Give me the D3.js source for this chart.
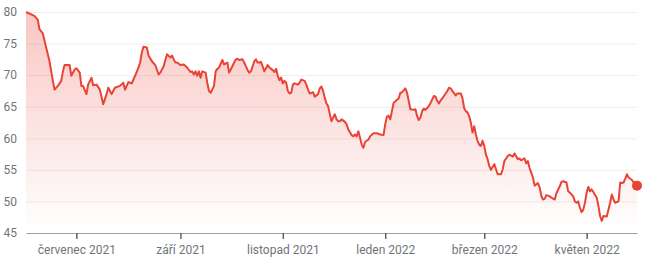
<!DOCTYPE html>
<html>
<head>
<meta charset="utf-8">
<script src="https://cdn.jsdelivr.net/npm/d3@7"></script>
<style>
  body { margin: 0; background: #fff; }
  svg { display: block; }
</style>
</head>
<body>
<svg width="650" height="262"></svg>
<script>
// daily closes (one row per month)
const dates = [
  "2021-06-01","2021-06-06","2021-06-08","2021-06-09","2021-06-11","2021-06-13","2021-06-15","2021-06-17","2021-06-18","2021-06-20","2021-06-22","2021-06-23","2021-06-24","2021-06-27","2021-06-28","2021-06-30",
  "2021-07-01","2021-07-03","2021-07-04","2021-07-05","2021-07-07","2021-07-08","2021-07-10","2021-07-11","2021-07-13","2021-07-15","2021-07-17","2021-07-19","2021-07-20","2021-07-22","2021-07-24","2021-07-27","2021-07-29","2021-07-30",
  "2021-08-01","2021-08-03","2021-08-05","2021-08-07","2021-08-08","2021-08-09","2021-08-10","2021-08-12","2021-08-13","2021-08-15","2021-08-17","2021-08-19","2021-08-20","2021-08-22","2021-08-24","2021-08-26","2021-08-27","2021-08-28","2021-08-29","2021-08-30",
  "2021-09-01","2021-09-03","2021-09-05","2021-09-07","2021-09-08","2021-09-09","2021-09-10","2021-09-11","2021-09-12","2021-09-13","2021-09-14","2021-09-16","2021-09-17","2021-09-18","2021-09-19","2021-09-21","2021-09-22","2021-09-23","2021-09-24","2021-09-26","2021-09-27","2021-09-29","2021-09-30",
  "2021-10-01","2021-10-03","2021-10-04","2021-10-05","2021-10-06","2021-10-08","2021-10-09","2021-10-11","2021-10-12","2021-10-13","2021-10-15","2021-10-16","2021-10-17","2021-10-18","2021-10-19","2021-10-20","2021-10-21","2021-10-23","2021-10-24","2021-10-26","2021-10-27","2021-10-28","2021-10-29","2021-10-30","2021-10-31",
  "2021-11-01","2021-11-02","2021-11-03","2021-11-04","2021-11-05","2021-11-06","2021-11-07","2021-11-08","2021-11-10","2021-11-11","2021-11-12","2021-11-14","2021-11-15","2021-11-16","2021-11-17","2021-11-18","2021-11-19","2021-11-20","2021-11-22","2021-11-23","2021-11-24","2021-11-25","2021-11-26","2021-11-27","2021-11-28","2021-11-29","2021-11-30",
  "2021-12-01","2021-12-02","2021-12-03","2021-12-04","2021-12-05","2021-12-06","2021-12-08","2021-12-09","2021-12-10","2021-12-12","2021-12-13","2021-12-14","2021-12-15","2021-12-16","2021-12-17","2021-12-18","2021-12-19","2021-12-20","2021-12-22","2021-12-23","2021-12-25","2021-12-27","2021-12-29","2021-12-31",
  "2022-01-01","2022-01-02","2022-01-03","2022-01-04","2022-01-05","2022-01-06","2022-01-08","2022-01-09","2022-01-10","2022-01-11","2022-01-12","2022-01-13","2022-01-14","2022-01-15","2022-01-16","2022-01-18","2022-01-19","2022-01-20","2022-01-21","2022-01-22","2022-01-23","2022-01-24","2022-01-25","2022-01-26","2022-01-27","2022-01-28","2022-01-30","2022-01-31",
  "2022-02-01","2022-02-02","2022-02-03","2022-02-04","2022-02-05","2022-02-06","2022-02-07","2022-02-08","2022-02-09","2022-02-10","2022-02-12","2022-02-13","2022-02-15","2022-02-16","2022-02-17","2022-02-18","2022-02-19","2022-02-20","2022-02-21","2022-02-22","2022-02-23","2022-02-24","2022-02-25","2022-02-26","2022-02-27","2022-02-28",
  "2022-03-01","2022-03-02","2022-03-03","2022-03-04","2022-03-05","2022-03-07","2022-03-08","2022-03-09","2022-03-11","2022-03-12","2022-03-13","2022-03-15","2022-03-16","2022-03-18","2022-03-19","2022-03-21","2022-03-22","2022-03-23","2022-03-25","2022-03-26","2022-03-27","2022-03-28","2022-03-30","2022-03-31",
  "2022-04-02","2022-04-03","2022-04-04","2022-04-05","2022-04-06","2022-04-07","2022-04-09","2022-04-10","2022-04-12","2022-04-13","2022-04-15","2022-04-16","2022-04-17","2022-04-19","2022-04-20","2022-04-21","2022-04-23","2022-04-24","2022-04-25","2022-04-26","2022-04-27","2022-04-28","2022-04-29","2022-04-30",
  "2022-05-01","2022-05-02","2022-05-03","2022-05-04","2022-05-05","2022-05-07","2022-05-08","2022-05-09","2022-05-10","2022-05-11","2022-05-13","2022-05-15","2022-05-16","2022-05-17","2022-05-18","2022-05-19","2022-05-20","2022-05-21","2022-05-22","2022-05-23","2022-05-24","2022-05-25","2022-05-26","2022-05-27","2022-05-28","2022-05-29","2022-05-31"
];
const prices = [
  80.0,79.4,78.8,77.3,76.6,74.4,72.2,69.1,67.7,68.3,69.1,70.6,71.6,71.6,69.9,70.9,
  71.1,70.4,68.3,68.3,67.0,68.5,69.6,68.4,68.5,67.7,65.4,67.0,68.0,67.0,68.0,68.3,68.8,67.7,
  68.9,68.7,69.9,71.2,72.0,73.6,74.5,74.4,73.1,72.2,71.6,70.1,70.4,71.4,73.3,72.8,73.1,72.5,72.0,72.0,
  71.6,71.7,71.2,70.5,70.6,70.1,70.6,69.9,70.6,69.6,70.6,70.4,68.8,67.5,67.2,68.3,70.6,71.0,71.2,72.4,71.7,72.0,70.4,
  70.9,72.0,72.5,72.6,72.4,72.5,72.0,70.8,70.4,70.6,72.2,72.5,72.0,72.0,72.1,71.4,70.6,71.6,71.2,70.8,70.5,71.0,69.9,69.2,69.6,
  68.7,69.1,68.8,67.5,67.1,67.2,68.5,68.7,68.5,68.8,69.3,69.1,68.5,67.7,67.1,67.2,67.3,66.6,67.0,67.9,68.2,67.5,66.4,65.5,65.1,63.8,62.7,
  63.3,63.8,63.0,62.7,62.7,63.0,62.6,62.2,61.4,60.5,60.3,60.6,60.3,61.1,60.1,59.0,58.5,59.4,59.8,60.3,60.8,60.8,60.6,60.5,
  62.2,63.4,63.6,63.0,64.3,65.6,66.1,66.3,67.2,67.3,67.6,67.9,67.2,65.9,64.6,64.5,64.6,63.5,62.9,63.3,64.3,64.7,64.5,64.8,65.1,65.6,66.7,66.6,
  65.9,65.5,66.0,66.3,66.7,67.1,67.5,68.0,67.9,67.5,66.8,67.1,67.1,66.4,64.8,64.3,64.1,63.5,62.5,60.9,61.9,60.6,59.6,59.0,58.8,59.6,
  58.8,57.4,56.7,55.6,55.0,55.9,55.1,54.3,54.3,55.1,56.4,57.2,57.4,57.1,57.6,56.7,56.8,56.5,56.8,56.0,56.4,55.3,53.8,52.5,
  52.9,52.2,50.9,50.3,50.4,51.0,50.8,50.6,50.3,51.3,52.4,53.1,53.2,53.0,51.6,51.4,50.8,50.0,49.8,50.0,49.0,48.3,48.7,49.8,
  51.4,52.3,51.6,51.9,51.5,50.6,49.3,47.7,46.9,47.7,47.6,49.8,51.1,50.3,49.8,49.9,50.0,53.0,52.9,53.0,53.6,54.3,53.8,53.6,53.4,53.0,52.5
];
const yTicks = [45, 50, 55, 60, 65, 70, 75, 80];
const xTickDates = ["2021-07-01", "2021-09-01", "2021-11-01", "2022-01-01", "2022-03-01", "2022-05-01"];
const xTickLabels = ["červenec 2021", "září 2021", "listopad 2021", "leden 2022", "březen 2022", "květen 2022"];

const red = "#ea4335";
const parse = d3.utcParse("%Y-%m-%d");
const data = dates.map((d, i) => ({ date: parse(d), value: prices[i] }));

const svg = d3.select("svg");
const plotLeft = 26, plotRight = 637, plotTop = 12, plotBottom = 233;

const x = d3.scaleUtc()
    .domain(d3.extent(data, d => d.date))
    .range([plotLeft, plotRight]);
const y = d3.scaleLinear()
    .domain([45, 80])
    .range([plotBottom, plotTop]);

const grad = svg.append("defs").append("linearGradient")
    .attr("id", "fade")
    .attr("gradientUnits", "userSpaceOnUse")
    .attr("x1", 0).attr("x2", 0)
    .attr("y1", plotTop).attr("y2", plotBottom);
grad.append("stop").attr("offset", 0).attr("stop-color", red).attr("stop-opacity", 0.3);
grad.append("stop").attr("offset", 1).attr("stop-color", red).attr("stop-opacity", 0);

// grid lines + y labels
const yAxis = svg.append("g")
    .attr("transform", `translate(${plotLeft},0)`)
    .call(d3.axisLeft(y).tickValues(yTicks).tickSize(-(plotRight - plotLeft)).tickPadding(9))
    .attr("font-size", 12)
    .attr("font-family", "Roboto, sans-serif");
yAxis.select(".domain").remove();
yAxis.selectAll(".tick line").attr("stroke", "#eeeeee");
yAxis.selectAll(".tick text").attr("fill", "#70757a");

svg.append("path")
    .datum(data)
    .attr("fill", "url(#fade)")
    .attr("d", d3.area().x(d => x(d.date)).y0(plotBottom).y1(d => y(d.value)));

svg.append("path")
    .datum(data)
    .attr("fill", "none")
    .attr("stroke", red)
    .attr("stroke-width", 2)
    .attr("stroke-linejoin", "round")
    .attr("d", d3.line().x(d => x(d.date)).y(d => y(d.value)));

const xAxis = svg.append("g")
    .attr("transform", `translate(0,${plotBottom})`)
    .call(d3.axisBottom(x)
        .tickValues(xTickDates.map(parse))
        .tickFormat((d, i) => xTickLabels[i])
        .tickSize(6).tickSizeOuter(0).tickPadding(6))
    .attr("font-size", 12)
    .attr("font-family", "Roboto, sans-serif");
xAxis.select(".domain").attr("stroke", "#9aa0a6");
xAxis.selectAll(".tick line").attr("stroke", "#5f6368").attr("stroke-width", 1.5);
xAxis.selectAll(".tick text").attr("fill", "#70757a");

const last = data[data.length - 1];
svg.append("circle")
    .attr("cx", x(last.date))
    .attr("cy", y(last.value))
    .attr("r", 5)
    .attr("fill", red);
</script>
</body>
</html>
